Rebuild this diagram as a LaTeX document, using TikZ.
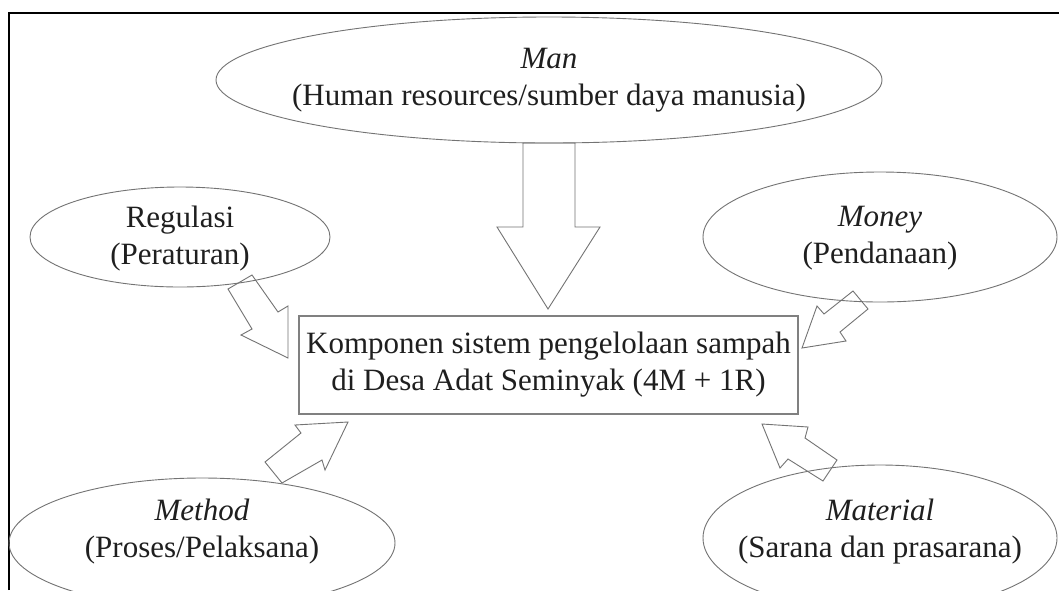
\documentclass[tikz,border=0pt]{standalone}
\usepackage{fontspec}
\setmainfont{Liberation Serif}
\usetikzlibrary{shapes.geometric}
\begin{document}
\begin{tikzpicture}[x=1pt,y=-1pt,
  oval/.style={ellipse, draw=black!55, line width=0.9pt, inner sep=0pt},
  txt/.style={align=center, font=\fontsize{31}{37}\selectfont, text=black!88},
  blockarrow/.style={draw=black!55, line width=0.9pt, line join=miter},
  mainbox/.style={draw=black!50, line width=1.1pt, inner sep=0pt, align=center,
    font=\fontsize{31}{37}\selectfont, text=black!88},
  frame/.style={draw=black, line width=1.2pt}
]
\useasboundingbox (0,0) rectangle (1059,590);
\fill[white] (0,0) rectangle (1059,590);
\clip (0,0) rectangle (1059,590);
\draw[frame] (9,590) -- (9,13) -- (1059,13);

% ellipses
\node[oval, minimum width=666pt, minimum height=126pt] (man) at (549,80) {};
\node[oval, minimum width=300pt, minimum height=100pt] (reg) at (180,237) {};
\node[oval, minimum width=354pt, minimum height=130pt] (money) at (880,237) {};
\node[oval, minimum width=386pt, minimum height=130pt] (method) at (202,543) {};
\node[oval, minimum width=354pt, minimum height=146pt] (material) at (880,538) {};

% texts
\node[txt] (manT) at (549,80) {\textit{Man}\\(Human resources/sumber daya manusia)};
\node[txt] (regT) at (180,239) {Regulasi\\(Peraturan)};
\node[txt] (moneyT) at (880,238) {\textit{Money}\\(Pendanaan)};
\node[txt] (methodT) at (202,532) {\textit{Method}\\(Proses/Pelaksana)};
\node[txt] (materialT) at (880,532) {\textit{Material}\\(Sarana dan prasarana)};

% central box
\node[mainbox, minimum width=499pt, minimum height=98pt] (box) at (548.5,365)
  {Komponen sistem pengelolaan sampah\\di Desa Adat Seminyak (4M + 1R)};

% block arrows
\draw[blockarrow] (523,143) -- (575,143) -- (575,227) -- (600,227) -- (548,309)
  -- (497,227) -- (523,227) -- cycle;
\draw[blockarrow] (228,289) -- (252,275) -- (278,312) -- (288,306) -- (288,358)
  -- (241,335) -- (252,329) -- cycle;
\draw[blockarrow] (853,291) -- (868,309) -- (840,332) -- (846,341) -- (802,348)
  -- (817,306) -- (824,314) -- cycle;
\draw[blockarrow] (348,422) -- (295,425) -- (301,433) -- (265,462) -- (282,483)
  -- (322,460) -- (325,470) -- cycle;
\draw[blockarrow] (762,424) -- (780,468) -- (788,459) -- (823,481) -- (837,460)
  -- (805,438) -- (808,427) -- cycle;
\end{tikzpicture}
\end{document}
